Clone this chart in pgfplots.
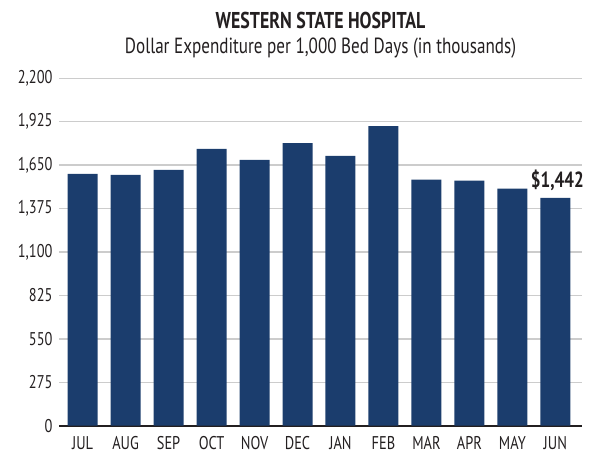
\documentclass[border=0pt]{standalone}
\usepackage{fontspec}
\setmainfont{PT Sans}[FakeStretch=0.78]
\usepackage{pgfplots}
\pgfplotsset{compat=1.18}
\definecolor{barblue}{RGB}{27,61,109}
\definecolor{gridgray}{RGB}{204,204,204}
\definecolor{axisdark}{RGB}{35,31,32}
\begin{document}
\begin{tikzpicture}
\useasboundingbox (-59bp,-27.3bp) rectangle (538bp,425.7bp);
\begin{axis}[
  at={(0,0)}, anchor=south west,
  scale only axis,
  width=523bp, height=347.4bp,
  xmin=-0.55, xmax=11.62,
  ymin=0, ymax=2200,
  ytick={0,275,550,825,1100,1375,1650,1925,2200},
  xtick={0,...,11},
  xticklabels={JUL,AUG,SEP,OCT,NOV,DEC,JAN,FEB,MAR,APR,MAY,JUN},
  axis x line*=bottom,
  axis y line*=left,
  y axis line style={draw=none},
  x axis line style={draw=axisdark, line width=2bp},
  ymajorgrids,
  major grid style={draw=gridgray, line width=1.5bp},
  major tick length=0pt,
  tick style={draw=none},
  /pgf/number format/assume math mode=true,
  /pgf/number format/1000 sep={,},
  yticklabel style={font=\fontsize{18.5}{18.5}\selectfont, text=axisdark, anchor=east, xshift=-3bp},
  xticklabel style={font=\fontsize{18.5}{18.5}\selectfont, text=axisdark, anchor=base, yshift=-23.5bp},
  clip=false,
]
\addplot[ybar, bar width=30bp, fill=barblue, draw=none] coordinates {
(0,1595) (1,1589) (2,1620) (3,1753) (4,1683) (5,1790) (6,1708) (7,1897) (8,1558) (9,1552) (10,1501) (11,1442)};
\node[anchor=base, font=\bfseries\fontsize{22}{22}\selectfont, text=axisdark, xshift=2bp] at (axis cs:11,1442) [yshift=10bp] {\$1,442};
\node[anchor=base, font=\bfseries\fontsize{23}{23}\selectfont, text=axisdark] at (rel axis cs:0.5,1) [yshift=50bp] {WESTERN STATE HOSPITAL};
\node[anchor=base, font=\fontsize{22}{22}\selectfont, text=axisdark] at (rel axis cs:0.5,1) [yshift=25bp] {Dollar Expenditure per 1,000 Bed Days (in thousands)};
\end{axis}
\end{tikzpicture}
\end{document}
